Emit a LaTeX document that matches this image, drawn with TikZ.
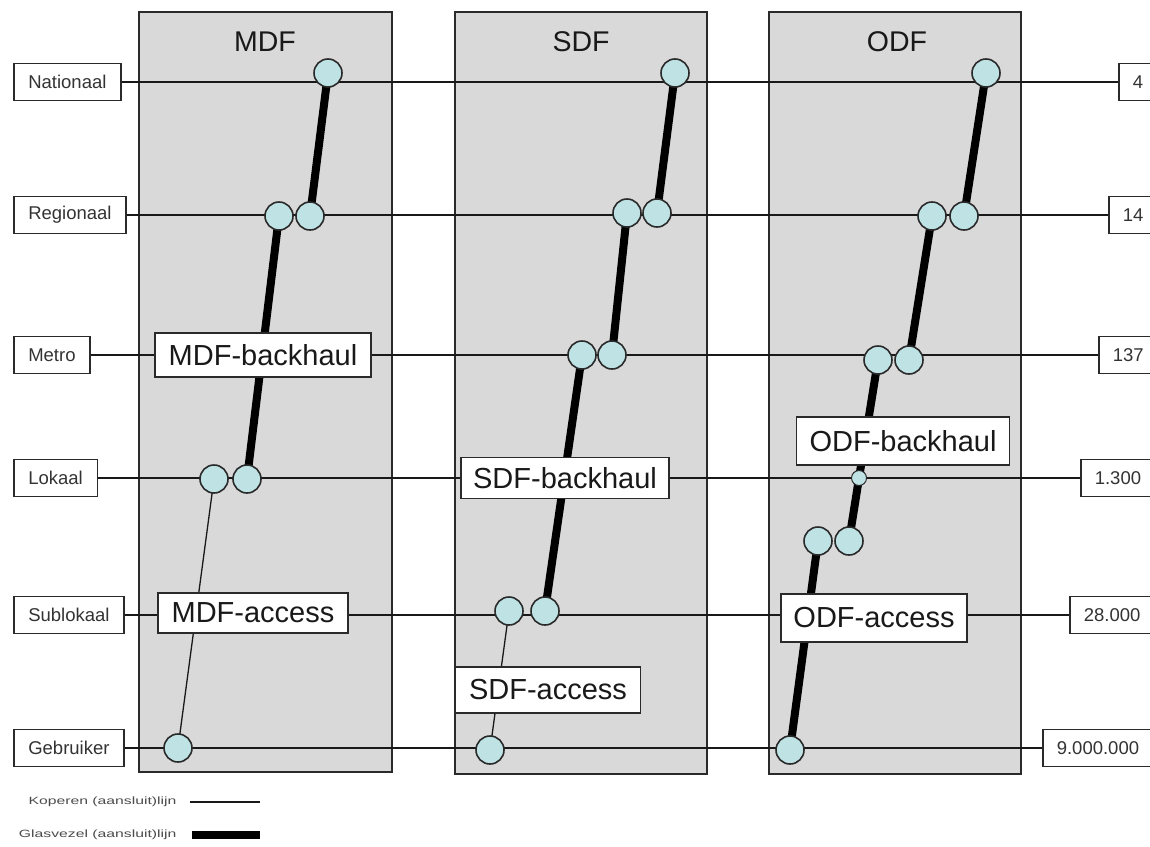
\documentclass[tikz,border=0pt]{standalone}
\usepackage{fontspec}
\setmainfont{Liberation Sans}
\definecolor{colfill}{HTML}{D9D9D9}
\definecolor{nodefill}{HTML}{BFE3E4}
\definecolor{edge}{HTML}{2A2A2A}
\begin{document}
\begin{tikzpicture}[x=1pt,y=-1pt,
  colbox/.style={draw=edge, line width=1.6pt, fill=colfill},
  lvl/.style={draw=edge, line width=1.6pt, fill=white, font=\fontsize{18.5}{18.5}\selectfont, text=black!80, minimum height=37pt, inner xsep=14.5pt, anchor=west},
  cnt/.style={draw=edge, line width=1.6pt, fill=white, font=\fontsize{18.5}{18.5}\selectfont, text=black!80, minimum height=37pt, inner xsep=14pt, anchor=west},
  big/.style={draw=edge, line width=1.6pt, fill=white, font=\fontsize{29}{29}\selectfont, text=black!90, inner sep=0pt},
  title/.style={font=\fontsize{28.5}{28.5}\selectfont, text=black!90},
  pnt/.style={circle, draw=edge, line width=1.6pt, fill=nodefill, minimum size=28pt, inner sep=0pt},
  spnt/.style={circle, draw=edge, line width=1pt, fill=nodefill, minimum size=15pt, inner sep=0pt},
  hline/.style={line width=1.5pt, draw=black!90},
  fiber/.style={line width=8pt, draw=black},
  copper/.style={line width=1.3pt, draw=black!90},
  legend/.style={font=\fontsize{10.5}{10.5}\selectfont, text=black!70, anchor=east}
]
\useasboundingbox (0,0) rectangle (1150,846);
\fill[white] (0,0) rectangle (1150,846);

% columns
\draw[colbox] (139,12) rectangle (392,772);
\draw[colbox] (455,12) rectangle (707,774);
\draw[colbox] (769,12) rectangle (1021,774);
\node[title] (tmdf) at (265,42) {MDF};
\node[title] (tsdf) at (581,42) {SDF};
\node[title] (todf) at (897,42) {ODF};

% level boxes
\node[lvl] (nat) at (13,82) {Nationaal};
\node[lvl] (reg) at (13,215) {Regionaal};
\node[lvl] (met) at (13,355) {Metro};
\node[lvl] (lok) at (13,478) {Lokaal};
\node[lvl] (sub) at (13,615) {Sublokaal};
\node[lvl] (geb) at (13,748) {Gebruiker};

\node[cnt] (c1) at (1118,82) {4};
\node[cnt] (c2) at (1108,215) {14};
\node[cnt] (c3) at (1098,355) {137};
\node[cnt] (c4) at (1080,478) {1.300};
\node[cnt] (c5) at (1069,615) {28.000};
\node[cnt] (c6) at (1042,748) {9.000.000};

\draw[hline] (nat.east) -- (c1.west);
\draw[hline] (reg.east) -- (c2.west);
\draw[hline] (met.east) -- (c3.west);
\draw[hline] (lok.east) -- (c4.west);
\draw[hline] (sub.east) -- (c5.west);
\draw[hline] (geb.east) -- (c6.west);

% point coordinates
\coordinate (m1) at (328,73);
\coordinate (m2a) at (279,216);
\coordinate (m2b) at (310,216);
\coordinate (m4a) at (214,479);
\coordinate (m4b) at (247,479);
\coordinate (m6) at (178,748);

\coordinate (s1) at (675,73);
\coordinate (s2a) at (627,213);
\coordinate (s2b) at (657,213);
\coordinate (s3a) at (582,355);
\coordinate (s3b) at (612,355);
\coordinate (s5a) at (509,611);
\coordinate (s5b) at (545,611);
\coordinate (s6) at (490,750);

\coordinate (o1) at (986,73);
\coordinate (o2a) at (932,216);
\coordinate (o2b) at (964,216);
\coordinate (o3a) at (878,360);
\coordinate (o3b) at (909,360);
\coordinate (o4) at (859,478);
\coordinate (o5a) at (818,541);
\coordinate (o5b) at (849,541);
\coordinate (o6) at (790,750);

% connections
\draw[fiber] (m1) -- (m2b);
\draw[fiber] (m2a) -- (m4b);
\draw[copper] (m4a) -- (m6);

\draw[fiber] (s1) -- (s2b);
\draw[fiber] (s2a) -- (s3b);
\draw[fiber] (s3a) -- (s5b);
\draw[copper] (s5a) -- (s6);

\draw[fiber] (o1) -- (o2b);
\draw[fiber] (o2a) -- (o3b);
\draw[fiber] (o3a) -- (o4) -- (o5b);
\draw[fiber] (o5a) -- (o6);

% labels
\node[big, minimum width=216pt, minimum height=44pt] (mbh) at (263,355) {MDF-backhaul};
\node[big, minimum width=190pt, minimum height=40pt] (mac) at (253,613) {MDF-access};
\node[big, minimum width=208pt, minimum height=41pt] (sbh) at (565,478) {SDF-backhaul};
\node[big, minimum width=185pt, minimum height=46pt] (sac) at (548,690) {SDF-access};
\node[big, minimum width=213pt, minimum height=48pt] (obh) at (903,441) {ODF-backhaul};
\node[big, minimum width=186pt, minimum height=48pt] (oac) at (874,618) {ODF-access};

% points
\foreach \p in {m1,m2a,m2b,m4a,m4b,m6,s1,s2a,s2b,s3a,s3b,s5a,s5b,s6,o1,o2a,o2b,o3a,o3b,o5a,o5b,o6}
  \node[pnt] (n\p) at (\p) {};
\node[spnt] (no4) at (o4) {};

% legend
\node[legend] (lk) at (180,802) {\scalebox{1.5}[1]{Koperen (aansluit)lijn}};
\node[legend] (lg) at (180,835) {\scalebox{1.5}[1]{Glasvezel (aansluit)lijn}};
\coordinate (lk1) at (190,802);
\coordinate (lk2) at (260,802);
\coordinate (lg1) at (192,835);
\coordinate (lg2) at (260,835);
\draw[copper] (lk1) -- (lk2);
\draw[line width=8pt] (lg1) -- (lg2);
\end{tikzpicture}
\end{document}
